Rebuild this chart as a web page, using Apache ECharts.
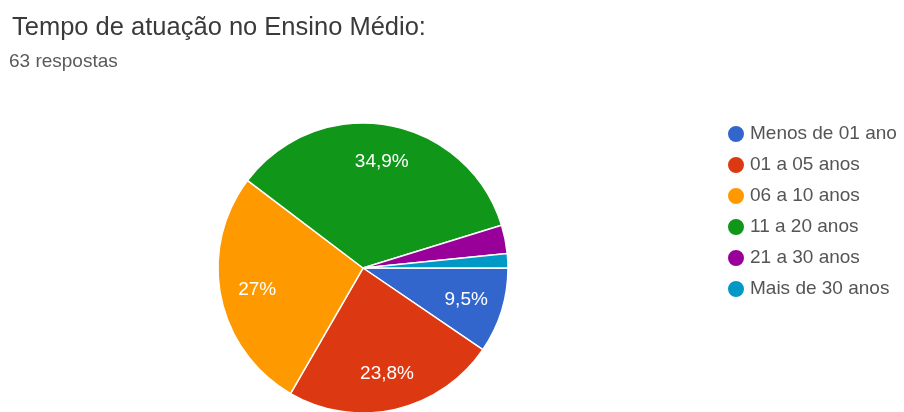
<!DOCTYPE html>
<html>
<head>
<meta charset="utf-8">
<script src="https://cdn.jsdelivr.net/npm/echarts@6/dist/echarts.min.js"></script>
<style>
  html, body { margin: 0; padding: 0; background: #ffffff; }
  #chart { width: 904px; height: 412px; }
</style>
</head>
<body>
<div id="chart"></div>
<script>
const titleText = 'Tempo de atuação no Ensino Médio:';
const subtitleText = '63 respostas';
const categories = ['Menos de 01 ano', '01 a 05 anos', '06 a 10 anos', '11 a 20 anos', '21 a 30 anos', 'Mais de 30 anos'];
const counts = [6, 15, 17, 22, 2, 1];
const colors = ['#3366cc', '#dc3912', '#ff9900', '#109618', '#990099', '#0099c6'];

const total = counts.reduce((a, b) => a + b, 0);
const pieData = categories.map((name, i) => ({ name: name, value: counts[i] }));

function pctLabel(v) {
  const pct = v / total * 100;
  if (pct < 5) return '';
  return (Math.round(pct * 10) / 10).toString().replace('.', ',') + '%';
}

const chart = echarts.init(document.getElementById('chart'), null, { renderer: 'canvas' });
chart.setOption({
  animation: false,
  color: colors,
  title: [
    {
      text: titleText,
      left: 12, top: 15, padding: 0,
      textStyle: { fontFamily: 'Liberation Sans, Arial, sans-serif', fontSize: 25.5, fontWeight: 'normal', color: '#3a3a3a' }
    },
    {
      text: subtitleText,
      left: 9, top: 52, padding: 0,
      textStyle: { fontFamily: 'Liberation Sans, Arial, sans-serif', fontSize: 19, fontWeight: 'normal', color: '#5a5a5a' }
    }
  ],
  legend: {
    orient: 'vertical',
    left: 726, top: 124,
    padding: 0,
    itemWidth: 18, itemHeight: 18, itemGap: 11,
    icon: 'circle',
    selectedMode: false,
    data: categories,
    textStyle: { fontFamily: 'Liberation Sans, Arial, sans-serif', fontSize: 19, color: '#555555' }
  },
  series: [
    {
      type: 'pie',
      center: [363, 268],
      radius: [0, 145],
      startAngle: 0,
      clockwise: true,
      silent: true,
      label: { show: false },
      labelLine: { show: false },
      itemStyle: { borderColor: '#ffffff', borderWidth: 1.5 },
      emphasis: { disabled: true },
      data: pieData
    },
    {
      type: 'pie',
      center: [363, 268],
      radius: [65, 145],
      startAngle: 0,
      clockwise: true,
      silent: true,
      legendHoverLink: false,
      itemStyle: { color: 'rgba(0,0,0,0)', borderWidth: 0 },
      label: {
        show: true,
        position: 'inside',
        formatter: p => pctLabel(p.value),
        fontFamily: 'Liberation Sans, Arial, sans-serif',
        fontSize: 19,
        color: '#ffffff',
        padding: [9, 0, 0, 0]
      },
      labelLine: { show: false },
      emphasis: { disabled: true },
      data: pieData
    }
  ]
});
</script>
</body>
</html>
